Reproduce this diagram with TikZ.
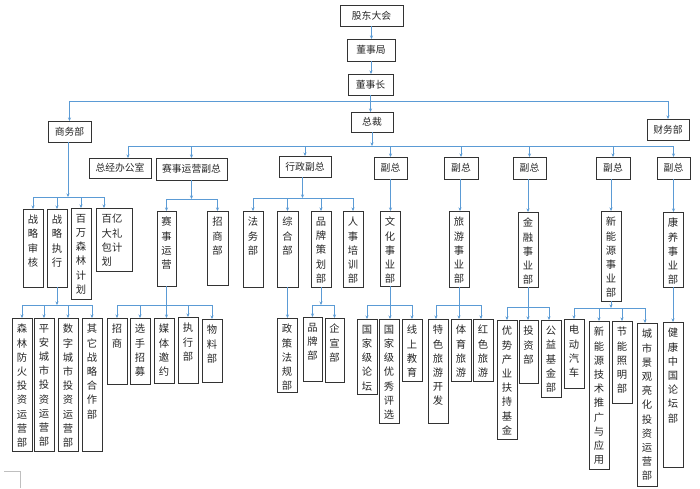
\documentclass[tikz,border=0pt]{standalone}
\usepackage{fontspec}
\setmainfont{Noto Sans CJK SC}
\usetikzlibrary{fit,arrows.meta,shadows}
\definecolor{cblue}{RGB}{91,155,213}
\newcommand{\hbx}[6]{\node[box,fit={(#2,#3)(#4,#5)}] (#1) {};
  \node[txt,font=\fontsize{9.8}{12}\selectfont] (#1t) at (#1.center) {#6};}
\newcommand{\vbx}[6]{\node[box,fit={(#2,#3)(#4,#5)}] (#1) {};
  \node[txt,anchor=north] (#1t) at ([yshift=-6pt]#1.north) {#6};}
\begin{document}
\begin{tikzpicture}[x=1pt,y=-1pt,
  box/.style={draw=black!80, line width=0.9pt, fill=white, inner sep=0pt, outer sep=0pt,
    drop shadow={shadow xshift=0.9pt,shadow yshift=-0.9pt,fill=black!30,opacity=1}},
  txt/.style={font=\fontsize{10.3}{14.2}\selectfont, text=black!85, inner sep=0pt, align=center},
  conn/.style={draw=cblue, line width=0.7pt},
  arr/.style={conn, -{Stealth[length=3.5pt,width=3pt]}},
]
\fill[white] (0,0) rectangle (700,488);
\useasboundingbox (0,0) rectangle (700,488);

% ---- top levels
\hbx{gd}{340}{5}{403}{26}{股东大会}
\hbx{dsj}{347}{39}{395}{61}{董事局}
\hbx{dsz}{348}{74}{393}{95}{董事长}
\hbx{zc}{351}{112}{393}{132}{总裁}
\hbx{sw}{48}{121}{91}{142}{商务部}
\hbx{cw}{647}{119}{689}{140}{财务部}
\hbx{zj}{89}{158}{151}{178}{总经办公室}
\hbx{ss}{156}{158}{227}{180}{赛事运营副总}
\hbx{xz}{279}{156}{331}{177}{行政副总}
\hbx{fa}{374}{157}{407}{179}{副总}
\hbx{fb}{444}{157}{478}{179}{副总}
\hbx{fc}{513}{157}{546}{179}{副总}
\hbx{fd}{596}{157}{630}{179}{副总}
\hbx{fe}{657}{157}{690}{179}{副总}

% ---- level 3
\vbx{zlsh}{23}{209}{43}{287}{战\\略\\审\\核}
\vbx{zlzx}{47}{209}{67}{287}{战\\略\\执\\行}
\vbx{bwsl}{71}{208}{91}{299}{百\\万\\森\\林\\计\\划}
\node[box,fit={(96,208)(132,271)}] (byd) {};
\node[txt,align=left,anchor=north] (bydt) at ([xshift=-2pt,yshift=-6pt]byd.north) {百亿\\大礼\\包计\\划};
\vbx{ssyy}{157}{211}{176}{286}{赛\\事\\运\\营}
\vbx{zsb}{207}{211}{228}{285}{招\\商\\部}
\vbx{fwb}{243}{211}{263}{287}{法\\务\\部}
\vbx{zhb}{277}{211}{298}{287}{综\\合\\部}
\vbx{ppch}{311}{211}{331}{287}{品\\牌\\策\\划\\部}
\vbx{rspx}{343}{211}{363}{287}{人\\事\\培\\训\\部}
\vbx{whsy}{380}{211}{400}{286}{文\\化\\事\\业\\部}
\vbx{lysy}{449}{211}{469}{287}{旅\\游\\事\\业\\部}
\vbx{jrsy}{518}{212}{538}{287}{金\\融\\事\\业\\部}
\vbx{xny}{601}{211}{621}{301}{新\\能\\源\\事\\业\\部}
\vbx{ky}{663}{212}{683}{287}{康\\养\\事\\业\\部}

% ---- level 4
\vbx{slfh}{12}{318}{32}{451}{森\\林\\防\\火\\投\\资\\运\\营\\部}
\vbx{pacs}{34}{318}{54}{451}{平\\安\\城\\市\\投\\资\\运\\营\\部}
\vbx{szcs}{58}{318}{78}{451}{数\\字\\城\\市\\投\\资\\运\\营\\部}
\vbx{qt}{82}{318}{102}{451}{其\\它\\战\\略\\合\\作\\部}
\vbx{zs}{107}{318}{127}{384}{招\\商}
\vbx{xszm}{130}{318}{150}{384}{选\\手\\招\\募}
\vbx{mtyy}{154}{318}{174}{383}{媒\\体\\邀\\约}
\vbx{zxb}{178}{317}{198}{383}{执\\行\\部}
\vbx{wlb}{202}{319}{222}{382}{物\\料\\部}
\vbx{zcfg}{277}{318}{297}{392}{政\\策\\法\\规\\部}
\vbx{ppb}{303}{317}{322}{381}{品\\牌\\部}
\vbx{qxb}{325}{318}{344}{382}{企\\宣\\部}
\vbx{gjlt}{357}{319}{377}{394}{国\\家\\级\\论\\坛}
\vbx{gjyx}{379}{319}{399}{423}{国\\家\\级\\优\\秀\\评\\选}
\vbx{xsjy}{402}{319}{422}{381}{线\\上\\教\\育}
\vbx{tsly}{428}{319}{448}{423}{特\\色\\旅\\游\\开\\发}
\vbx{tyly}{451}{319}{471}{381}{体\\育\\旅\\游}
\vbx{hsly}{473}{319}{493}{381}{红\\色\\旅\\游}
\vbx{ysjj}{497}{320}{517}{439}{优\\势\\产\\业\\扶\\持\\基\\金}
\vbx{tzb}{519}{320}{538}{383}{投\\资\\部}
\vbx{gyjj}{541}{320}{561}{397}{公\\益\\基\\金\\部}
\vbx{ddqc}{564}{319}{584}{388}{电\\动\\汽\\车}
\vbx{xnjs}{589}{321}{609}{469}{新\\能\\源\\技\\术\\推\\广\\与\\应\\用}
\vbx{jnzm}{612}{321}{632}{403}{节\\能\\照\\明\\部}
\vbx{csjg}{637}{323}{657}{486}{城\\市\\景\\观\\亮\\化\\投\\资\\运\\营\\部}
\vbx{jkzg}{663}{322}{683}{467}{健\\康\\中\\国\\论\\坛\\部}

% ---- bar coordinates
\coordinate (b0) at (0,101);
\coordinate (b1) at (0,146);
\coordinate (b2) at (0,197);
\coordinate (b3) at (0,199);
\coordinate (b4) at (0,198);
\coordinate (b5) at (0,305);
\coordinate (b6) at (0,307);
\coordinate (b7) at (0,308);

% ---- offset landing / start points
\coordinate (zjin) at ([xshift=8pt]zj.north);
\coordinate (bydin) at ([xshift=-10pt]byd.north);
\coordinate (swout) at ([xshift=-1.5pt]sw.south);
\coordinate (xzout) at ([xshift=-2.5pt]xz.south);
\coordinate (fbout) at ([xshift=-1pt]fb.south);
\coordinate (fcout) at ([xshift=-1.5pt]fc.south);
\coordinate (fdout) at ([xshift=-2pt]fd.south);
\coordinate (tslyin) at ([xshift=-2pt]tsly.north);
\coordinate (hslyin) at ([xshift=-2pt]hsly.north);
\coordinate (gyjjin) at ([xshift=-2pt]gyjj.north);
\coordinate (csjgin) at ([xshift=-2pt]csjg.north);

% ---- connectors top
\draw[arr] (gd.south) -- (gd.south |- dsj.north);
\draw[arr] (dsj.south) -- (dsj.south |- dsz.north);
\draw[arr] (dsz.south) -- (dsz.south |- zc.north);
\draw[conn] (b0 -| sw.north) -- (b0 -| cw.north);
\draw[arr] (b0 -| sw.north) -- (sw.north);
\draw[arr] (b0 -| cw.north) -- (cw.north);

\draw[arr] (zc.south) -- (zc.south |- b1);
\draw[conn] (b1 -| zjin) -- (b1 -| fe.north);
\draw[arr] (b1 -| zjin) -- (zjin);
\foreach \n in {ss,xz,fa,fb,fc,fd,fe} \draw[arr] (b1 -| \n.north) -- (\n.north);

% ---- level 2 -> 3
\draw[arr] (swout) -- (swout |- b2);
\draw[conn] (b2 -| zlsh.north) -- (b2 -| bydin);
\foreach \n in {zlsh,zlzx,bwsl} \draw[arr] (b2 -| \n.north) -- (\n.north);
\draw[arr] (b2 -| bydin) -- (bydin);

\draw[arr] (ss.south) -- (ss.south |- b3);
\draw[conn] (b3 -| ssyy.north) -- (b3 -| zsb.north);
\foreach \n in {ssyy,zsb} \draw[arr] (b3 -| \n.north) -- (\n.north);

\draw[arr] (xzout) -- (xzout |- b4);
\draw[conn] (b4 -| fwb.north) -- (b4 -| rspx.north);
\foreach \n in {fwb,zhb,ppch,rspx} \draw[arr] (b4 -| \n.north) -- (\n.north);

\draw[arr] (fa.south) -- (fa.south |- whsy.north);
\draw[arr] (fbout) -- (fbout |- lysy.north);
\draw[arr] (fcout) -- (fcout |- jrsy.north);
\draw[arr] (fdout) -- (fdout |- xny.north);
\draw[arr] (fe.south) -- (fe.south |- ky.north);

% ---- level 3 -> 4
\draw[arr] (zlzx.south) -- (zlzx.south |- b5);
\draw[conn] (b5 -| slfh.north) -- (b5 -| qt.north);
\foreach \n in {slfh,pacs,szcs,qt} \draw[arr] (b5 -| \n.north) -- (\n.north);

\draw[conn] (b5 -| zs.north) -- (b5 -| wlb.north);
\draw[arr] (ssyy.south) -- (ssyy.south |- mtyy.north);
\foreach \n in {zs,xszm,zxb,wlb} \draw[arr] (b5 -| \n.north) -- (\n.north);

\draw[arr] (zhb.south) -- (zhb.south |- zcfg.north);

\draw[arr] (ppch.south) -- (ppch.south |- b5);
\draw[conn] (b5 -| ppb.north) -- (b5 -| qxb.north);
\foreach \n in {ppb,qxb} \draw[arr] (b5 -| \n.north) -- (\n.north);

\draw[conn] (b5 -| gjlt.north) -- (b5 -| xsjy.north);
\draw[arr] (whsy.south) -- (whsy.south |- gjyx.north);
\foreach \n in {gjlt,xsjy} \draw[arr] (b5 -| \n.north) -- (\n.north);

\draw[conn] (b5 -| tslyin) -- (b5 -| hslyin);
\draw[arr] (lysy.south) -- (lysy.south |- tyly.north);
\draw[arr] (b5 -| tslyin) -- (tslyin);
\draw[arr] (b5 -| hslyin) -- (hslyin);

\draw[conn] (b6 -| ysjj.north) -- (b6 -| gyjjin);
\draw[arr] (jrsy.south) -- (jrsy.south |- tzb.north);
\draw[arr] (b6 -| ysjj.north) -- (ysjj.north);
\draw[arr] (b6 -| gyjjin) -- (gyjjin);

\draw[arr] (xny.south) -- (xny.south |- b7);
\draw[conn] (b7 -| ddqc.north) -- (b7 -| csjgin);
\foreach \n in {ddqc,xnjs,jnzm} \draw[arr] (b7 -| \n.north) -- (\n.north);
\draw[arr] (b7 -| csjgin) -- (csjgin);

\draw[arr] (ky.south) -- (ky.south |- jkzg.north);

% ---- page corner mark
\draw[black!25, line width=0.8pt] (4,471) -- (20,471) -- (20,488);
\end{tikzpicture}
\end{document}
